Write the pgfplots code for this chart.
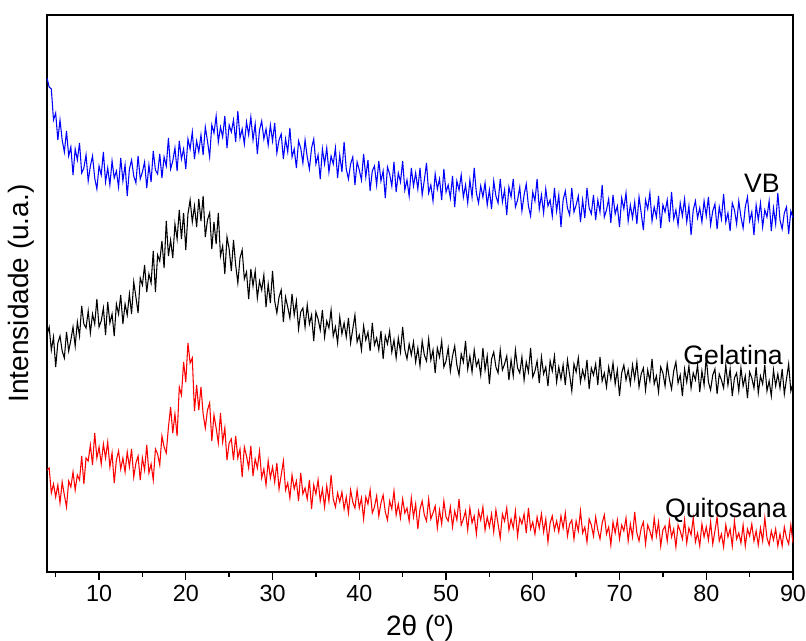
\documentclass[border=0pt]{standalone}
\usepackage{fontspec}
\setmainfont{Liberation Sans}
\usepackage{pgfplots}
\pgfplotsset{compat=1.18}
\definecolor{xblue}{RGB}{0,0,255}
\definecolor{xred}{RGB}{255,0,0}
\begin{document}
\begin{tikzpicture}
\useasboundingbox (-35.25pt,-51.75pt) rectangle (569.25pt,429pt);
\begin{axis}[
 at={(0pt,0pt)}, anchor=south west,
 scale only axis, width=559.5pt, height=417.75pt,
 xmin=4, xmax=90, ymin=15, ymax=572, y dir=reverse,
 xtick={10,20,...,90}, minor xtick={5,15,...,85},
 ytick=\empty,
 xtick pos=left, xticklabel pos=left,
 tick align=outside,
 major tick length=6pt, minor tick length=3.5pt,
 axis line style={line width=1.1pt},
 every tick/.style={line width=1pt, black},
 tick label style={font=\fontsize{17.5}{20}\selectfont},
 /pgf/number format/assume math mode=true,
 xlabel={2θ (º)},
 xlabel style={font=\fontsize{21}{24}\selectfont, at={(axis description cs:0.5,-0.077)}, anchor=north, inner sep=0pt},
 ylabel={Intensidade (u.a.)},
 ylabel style={font=\fontsize{21}{24}\selectfont, at={(axis description cs:-0.016,0.5)}, anchor=south, inner sep=0pt},
 clip=true,
]
\addplot[xblue, line width=0.8pt] coordinates {
(4,78)(4.25,87)(4.5,89)(4.75,120)(5,113)(5.25,140)(5.5,120)(5.75,140)(6,152)(6.25,131)(6.5,156)(6.75,147)(7,175)(7.25,149)(7.5,160)(7.75,143)(8,173)(8.25,168)(8.5,155)(8.75,181)(9,166)(9.25,156)(9.5,178)(9.75,189)(10,166)(10.25,175)(10.5,152)(10.75,182)(11,168)(11.25,185)(11.5,161)(11.75,178)(12,171)(12.25,187)(12.5,158)(12.75,181)(13,165)(13.25,196)(13.5,169)(13.75,160)(14,176)(14.25,183)(14.5,156)(14.75,179)(15,172)(15.25,162)(15.5,188)(15.75,165)(16,182)(16.25,151)(16.5,170)(16.75,174)(17,154)(17.25,178)(17.5,157)(17.75,166)(18,138)(18.25,169)(18.5,161)(18.75,148)(19,171)(19.25,141)(19.5,159)(19.75,149)(20,169)(20.25,139)(20.5,149)(20.75,132)(21,159)(21.25,141)(21.5,152)(21.75,135)(22,155)(22.25,127)(22.5,141)(22.75,157)(23,125)(23.25,133)(23.5,116)(23.75,142)(24,127)(24.25,137)(24.5,116)(24.75,148)(25,125)(25.25,132)(25.5,120)(25.75,142)(26,111)(26.25,138)(26.5,129)(26.75,144)(27,122)(27.25,135)(27.5,117)(27.75,140)(28,124)(28.25,154)(28.5,130)(28.75,121)(29,139)
(29.25,129)(29.5,145)(29.75,125)(30,141)(30.25,123)(30.5,153)(30.75,140)(31,134)(31.25,159)(31.5,139)(31.75,152)(32,128)(32.25,157)(32.5,149)(32.75,168)(33,141)(33.25,148)(33.5,163)(33.75,140)(34,157)(34.25,169)(34.5,148)(34.75,139)(35,164)(35.25,155)(35.5,179)(35.75,149)(36,164)(36.25,148)(36.5,172)(36.75,156)(37,164)(37.25,148)(37.5,178)(37.75,155)(38,172)(38.25,142)(38.5,169)(38.75,179)(39,164)(39.25,157)(39.5,185)(39.75,162)(40,170)(40.25,180)(40.5,154)(40.75,177)(41,160)(41.25,191)(41.5,171)(41.75,166)(42,185)(42.25,161)(42.5,181)(42.75,171)(43,198)(43.25,167)(43.5,174)(43.75,186)(44,162)(44.25,192)(44.5,173)(44.75,182)(45,161)(45.25,190)(45.5,180)(45.75,196)(46,168)(46.25,186)(46.5,173)(46.75,189)(47,168)(47.25,195)(47.5,180)(47.75,163)(48,193)(48.25,185)(48.5,201)(48.75,174)(49,189)(49.25,179)(49.5,200)(49.75,169)(50,192)(50.25,185)(50.5,198)(50.75,176)(51,207)(51.25,181)(51.5,190)(51.75,175)(52,197)(52.25,185)(52.5,203)(52.75,180)(53,197)(53.25,168)(53.5,193)(53.75,203)(54,186)
(54.25,197)(54.5,183)(54.75,205)(55,190)(55.25,209)(55.5,181)(55.75,196)(56,203)(56.25,179)(56.5,202)(56.75,190)(57,215)(57.25,187)(57.5,197)(57.75,179)(58,207)(58.25,200)(58.5,187)(58.75,211)(59,195)(59.25,184)(59.5,206)(59.75,216)(60,192)(60.25,201)(60.5,179)(60.75,209)(61,195)(61.25,213)(61.5,189)(61.75,206)(62,200)(62.25,216)(62.5,188)(62.75,211)(63,195)(63.25,227)(63.5,200)(63.75,191)(64,208)(64.25,215)(64.5,188)(64.75,212)(65,205)(65.25,196)(65.5,222)(65.75,200)(66,218)(66.25,188)(66.5,208)(66.75,214)(67,195)(67.25,220)(67.5,200)(67.75,212)(68,185)(68.25,217)(68.5,210)(68.75,199)(69,223)(69.25,195)(69.5,214)(69.75,206)(70,227)(70.25,198)(70.5,209)(70.75,193)(71,221)(71.25,205)(71.5,218)(71.75,202)(72,224)(72.25,197)(72.5,213)(72.75,230)(73,200)(73.25,209)(73.5,193)(73.75,221)(74,207)(74.25,217)(74.5,196)(74.75,228)(75,205)(75.25,212)(75.5,200)(75.75,222)(76,192)(76.25,219)(76.5,210)(76.75,225)(77,203)(77.25,216)(77.5,199)(77.75,222)(78,206)(78.25,235)(78.5,210)(78.75,201)(79,218)
(79.25,208)(79.5,222)(79.75,201)(80,216)(80.25,197)(80.5,225)(80.75,211)(81,204)(81.25,229)(81.5,207)(81.75,219)(82,194)(82.25,222)(82.5,213)(82.75,231)(83,203)(83.25,210)(83.5,224)(83.75,201)(84,217)(84.25,228)(84.5,207)(84.75,197)(85,221)(85.25,212)(85.5,235)(85.75,205)(86,220)(86.25,203)(86.5,227)(86.75,210)(87,217)(87.25,201)(87.5,231)(87.75,208)(88,224)(88.25,193)(88.5,220)(88.75,229)(89,213)(89.25,207)(89.5,234)(89.75,211)(90,218)
};
\addplot[black, line width=0.8pt] coordinates {
(4,335)(4.25,327)(4.5,350)(4.75,337)(5,367)(5.25,343)(5.5,336)(5.75,351)(6,358)(6.25,332)(6.5,351)(6.75,340)(7,327)(7.25,346)(7.5,322)(7.75,336)(8,306)(8.25,324)(8.5,328)(8.75,311)(9,333)(9.25,314)(9.5,324)(9.75,299)(10,327)(10.25,321)(10.5,308)(10.75,335)(11,302)(11.25,323)(11.5,314)(11.75,336)(12,304)(12.25,314)(12.5,295)(12.75,324)(13,304)(13.25,315)(13.5,294)(13.75,314)(14,282)(14.25,297)(14.5,313)(14.75,278)(15,285)(15.25,265)(15.5,292)(15.75,274)(16,283)(16.25,251)(16.5,292)(16.75,255)(17,261)(17.25,241)(17.5,268)(17.75,221)(18,256)(18.25,240)(18.5,258)(18.75,224)(19,239)(19.25,210)(19.5,239)(19.75,213)(20,250)(20.25,214)(20.5,200)(20.75,222)(21,206)(21.25,227)(21.5,199)(21.75,221)(22,196)(22.25,237)(22.5,220)(22.75,213)(23,249)(23.25,222)(23.5,244)(23.75,213)(24,256)(24.25,246)(24.5,274)(24.75,237)(25,249)(25.25,271)(25.5,240)(25.75,265)(26,283)(26.25,258)(26.5,250)(26.75,279)(27,272)(27.25,299)(27.5,269)(27.75,286)(28,271)(28.25,298)(28.5,281)(28.75,290)(29,275)
(29.25,307)(29.5,284)(29.75,303)(30,271)(30.25,301)(30.5,313)(30.75,297)(31,290)(31.25,322)(31.5,297)(31.75,307)(32,318)(32.25,294)(32.5,315)(32.75,301)(33,329)(33.25,312)(33.5,308)(33.75,327)(34,305)(34.25,324)(34.5,315)(34.75,341)(35,312)(35.25,319)(35.5,330)(35.75,310)(36,337)(36.25,321)(36.5,328)(36.75,310)(37,336)(37.25,327)(37.5,343)(37.75,317)(38,334)(38.25,323)(38.5,337)(38.75,318)(39,343)(39.25,329)(39.5,315)(39.75,342)(40,335)(40.25,350)(40.5,326)(40.75,340)(41,332)(41.25,351)(41.5,323)(41.75,345)(42,338)(42.25,350)(42.5,331)(42.75,359)(43,336)(43.25,344)(43.5,331)(43.75,352)(44,340)(44.25,358)(44.5,338)(44.75,352)(45,327)(45.25,350)(45.5,359)(45.75,344)(46,355)(46.25,342)(46.5,362)(46.75,348)(47,366)(47.25,341)(47.5,355)(47.75,361)(48,339)(48.25,360)(48.5,350)(48.75,373)(49,348)(49.25,357)(49.5,341)(49.75,367)(50,361)(50.25,348)(50.5,371)(50.75,356)(51,346)(51.25,365)(51.5,375)(51.75,354)(52,362)(52.25,341)(52.5,369)(52.75,356)(53,372)(53.25,350)(53.5,366)(53.75,360)(54,375)
(54.25,348)(54.5,370)(54.75,356)(55,384)(55.25,359)(55.5,352)(55.75,367)(56,373)(56.25,350)(56.5,370)(56.75,364)(57,356)(57.25,380)(57.5,360)(57.75,376)(58,350)(58.25,368)(58.5,373)(58.75,357)(59,380)(59.25,362)(59.5,372)(59.75,348)(60,377)(60.25,371)(60.5,361)(60.75,383)(61,357)(61.25,374)(61.5,367)(61.75,386)(62,361)(62.25,371)(62.5,356)(62.75,382)(63,367)(63.25,379)(63.5,365)(63.75,385)(64,360)(64.25,375)(64.5,391)(64.75,364)(65,372)(65.25,358)(65.5,382)(65.75,370)(66,379)(66.25,360)(66.5,389)(66.75,368)(67,375)(67.25,364)(67.5,385)(67.75,357)(68,381)(68.25,373)(68.5,387)(68.75,367)(69,379)(69.25,363)(69.5,384)(69.75,370)(70,396)(70.25,373)(70.5,365)(70.75,380)(71,370)(71.25,384)(71.5,365)(71.75,379)(72,362)(72.25,387)(72.5,374)(72.75,368)(73,390)(73.25,370)(73.5,381)(73.75,359)(74,384)(74.25,376)(74.5,392)(74.75,367)(75,373)(75.25,386)(75.5,364)(75.75,379)(76,389)(76.25,371)(76.5,362)(76.75,383)(77,375)(77.25,396)(77.5,369)(77.75,382)(78,366)(78.25,388)(78.5,373)(78.75,380)(79,365)
(79.25,392)(79.5,371)(79.75,385)(80,357)(80.25,382)(80.5,390)(80.75,375)(81,369)(81.25,394)(81.5,374)(81.75,380)(82,388)(82.25,365)(82.5,385)(82.75,369)(83,396)(83.25,378)(83.5,373)(83.75,391)(84,368)(84.25,386)(84.5,376)(84.75,398)(85,372)(85.25,378)(85.5,388)(85.75,367)(86,393)(86.25,376)(86.5,384)(86.75,365)(87,391)(87.25,381)(87.5,396)(87.75,370)(88,386)(88.25,374)(88.5,388)(88.75,369)(89,394)(89.25,379)(89.5,364)(89.75,391)(90,383)
};
\addplot[xred, line width=0.8pt] coordinates {
(4,470)(4.25,468)(4.5,493)(4.75,484)(5,497)(5.25,485)(5.5,503)(5.75,482)(6,495)(6.25,507)(6.5,481)(6.75,487)(7,472)(7.25,490)(7.5,475)(7.75,480)(8,456)(8.25,484)(8.5,458)(8.75,461)(9,445)(9.25,465)(9.5,433)(9.75,458)(10,447)(10.25,464)(10.5,444)(10.75,458)(11,442)(11.25,467)(11.5,453)(11.75,483)(12,460)(12.25,451)(12.5,469)(12.75,458)(13,472)(13.25,452)(13.5,467)(13.75,449)(14,477)(14.25,463)(14.5,456)(14.75,480)(15,458)(15.25,470)(15.5,445)(15.75,473)(16,464)(16.25,480)(16.5,449)(16.75,454)(17,465)(17.25,436)(17.5,447)(17.75,453)(18,427)(18.25,407)(18.5,433)(18.75,414)(19,436)(19.25,387)(19.5,395)(19.75,362)(20,382)(20.25,343)(20.5,363)(20.75,358)(21,411)(21.25,385)(21.5,410)(21.75,387)(22,414)(22.25,428)(22.5,410)(22.75,403)(23,441)(23.25,415)(23.5,428)(23.75,443)(24,413)(24.25,442)(24.5,428)(24.75,460)(25,443)(25.25,439)(25.5,460)(25.75,436)(26,458)(26.25,449)(26.5,477)(26.75,447)(27,456)(27.25,468)(27.5,446)(27.75,476)(28,459)(28.25,468)(28.5,451)(28.75,478)(29,469)
(29.25,485)(29.5,461)(29.75,478)(30,467)(30.25,482)(30.5,463)(30.75,489)(31,475)(31.25,461)(31.5,490)(31.75,483)(32,498)(32.25,475)(32.5,489)(32.75,481)(33,501)(33.25,473)(33.5,494)(33.75,488)(34,499)(34.25,480)(34.5,509)(34.75,485)(35,494)(35.25,480)(35.5,501)(35.75,489)(36,507)(36.25,486)(36.5,501)(36.75,475)(37,499)(37.25,507)(37.5,493)(37.75,502)(38,492)(38.25,509)(38.5,497)(38.75,513)(39,490)(39.25,502)(39.5,508)(39.75,490)(40,508)(40.25,498)(40.5,519)(40.75,497)(41,504)(41.25,490)(41.5,513)(41.75,507)(42,496)(42.25,516)(42.5,503)(42.75,495)(43,512)(43.25,520)(43.5,501)(43.75,509)(44,491)(44.25,515)(44.5,504)(44.75,518)(45,499)(45.25,513)(45.5,508)(45.75,521)(46,498)(46.25,517)(46.5,504)(46.75,529)(47,509)(47.25,501)(47.5,515)(47.75,521)(48,499)(48.25,519)(48.5,513)(48.75,506)(49,528)(49.25,510)(49.5,524)(49.75,501)(50,517)(50.25,521)(50.5,507)(50.75,527)(51,511)(51.25,520)(51.5,499)(51.75,525)(52,519)(52.25,511)(52.5,530)(52.75,508)(53,523)(53.25,516)(53.5,534)(53.75,511)(54,520)
(54.25,507)(54.5,530)(54.75,517)(55,527)(55.25,514)(55.5,532)(55.75,510)(56,524)(56.25,538)(56.5,514)(56.75,521)(57,508)(57.25,530)(57.5,519)(57.75,528)(58,511)(58.25,536)(58.5,518)(58.75,524)(59,514)(59.25,533)(59.5,508)(59.75,529)(60,522)(60.25,534)(60.5,517)(60.75,528)(61,514)(61.25,532)(61.5,519)(61.75,542)(62,523)(62.25,516)(62.5,530)(62.75,521)(63,532)(63.25,516)(63.5,528)(63.75,513)(64,536)(64.25,524)(64.5,520)(64.75,539)(65,521)(65.25,531)(65.5,511)(65.75,533)(66,527)(66.25,542)(66.5,519)(66.75,525)(67,536)(67.25,517)(67.5,530)(67.75,539)(68,523)(68.25,515)(68.5,534)(68.75,527)(69,545)(69.25,522)(69.5,533)(69.75,520)(70,539)(70.25,525)(70.5,531)(70.75,518)(71,541)(71.25,524)(71.5,537)(71.75,512)(72,533)(72.25,541)(72.5,528)(72.75,522)(73,544)(73.25,525)(73.5,531)(73.75,539)(74,518)(74.25,536)(74.5,522)(74.75,546)(75,530)(75.25,526)(75.5,541)(75.75,521)(76,537)(76.25,529)(76.5,547)(76.75,525)(77,531)(77.25,539)(77.5,520)(77.75,543)(78,528)(78.25,535)(78.5,518)(78.75,542)(79,533)
(79.25,546)(79.5,524)(79.75,537)(80,527)(80.25,540)(80.5,522)(80.75,544)(81,531)(81.25,517)(81.5,541)(81.75,534)(82,547)(82.25,525)(82.5,537)(82.75,529)(83,546)(83.25,521)(83.5,539)(83.75,533)(84,543)(84.25,525)(84.5,546)(84.75,529)(85,536)(85.25,524)(85.5,541)(85.75,531)(86,545)(86.25,528)(86.5,541)(86.75,518)(87,538)(87.25,545)(87.5,531)(87.75,540)(88,529)(88.25,546)(88.5,534)(88.75,546)(89,527)(89.25,538)(89.5,544)(89.75,525)(90,543)
};
\node[anchor=east, inner sep=0pt, font=\fontsize{20}{24}\selectfont] at (axis cs:88.5,183) {VB};
\node[anchor=east, inner sep=0pt, font=\fontsize{20}{24}\selectfont] at (axis cs:88.85,355) {Gelatina};
\node[anchor=east, inner sep=0pt, font=\fontsize{20}{24}\selectfont] at (axis cs:89.3,510) {Quitosana};
\end{axis}
\end{tikzpicture}
\end{document}
